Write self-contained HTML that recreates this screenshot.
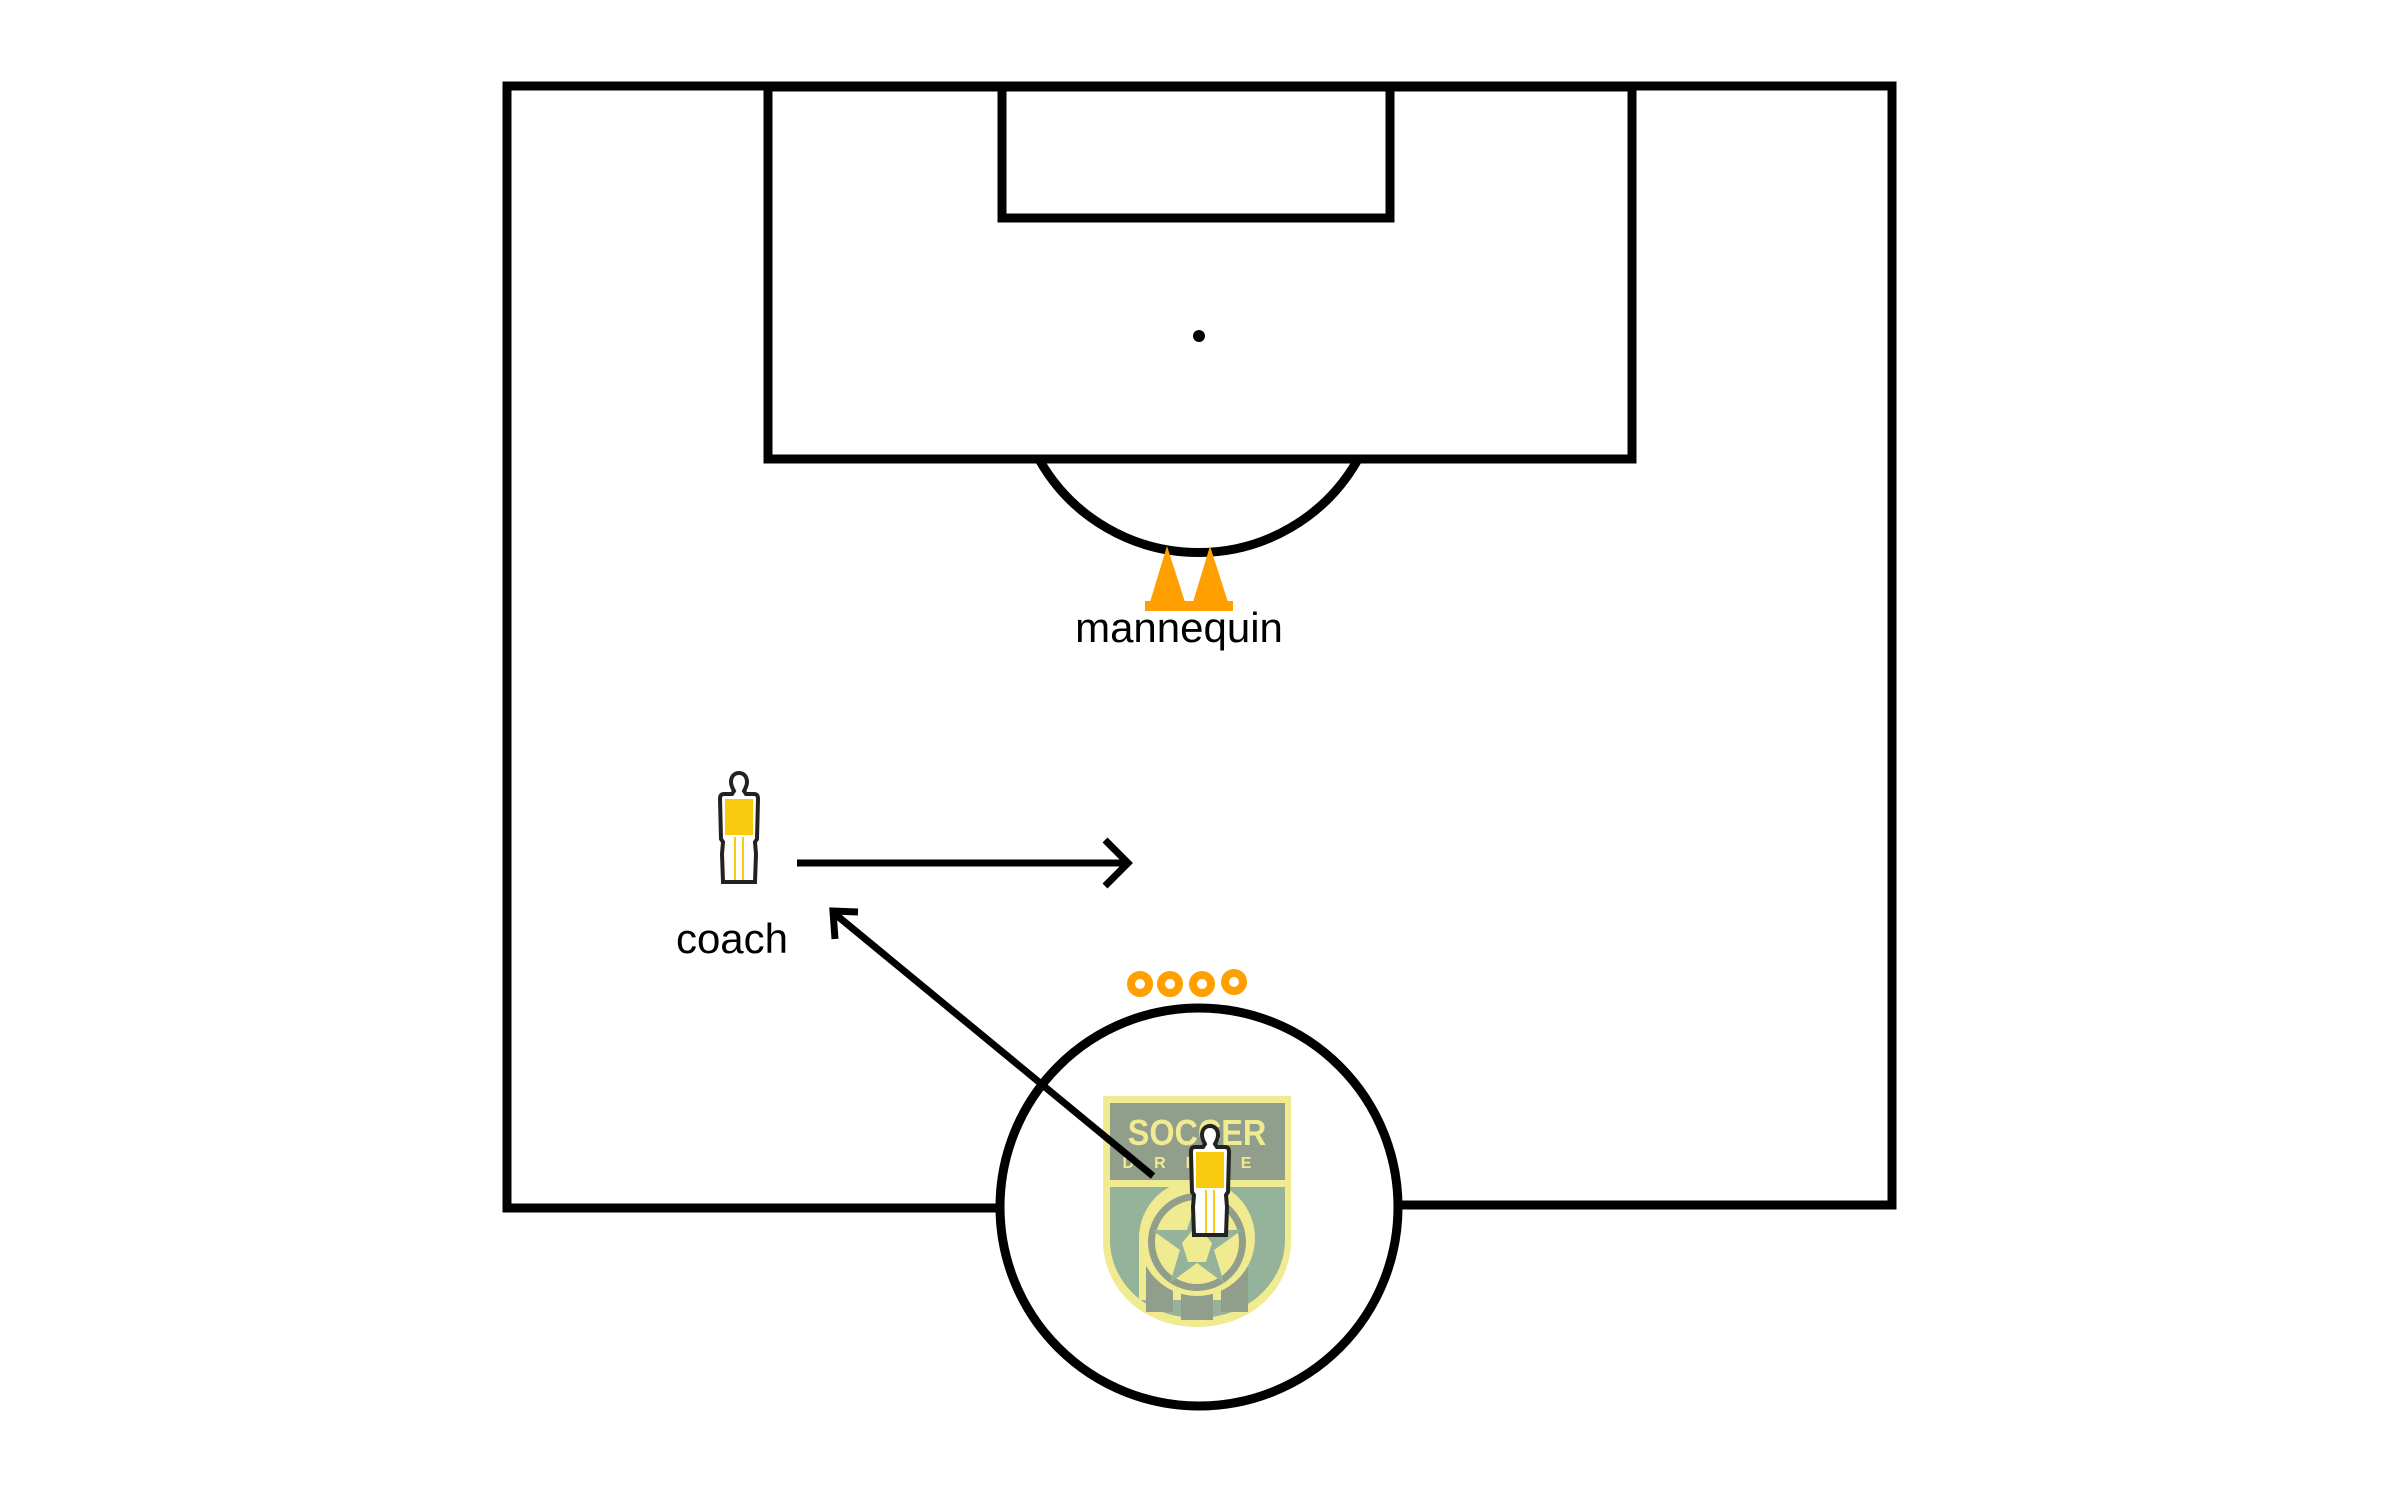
<!DOCTYPE html>
<html><head><meta charset="utf-8"><style>html,body{margin:0;padding:0;background:#fff}svg{display:block}</style></head>
<body>
<svg width="2391" height="1494" viewBox="0 0 2391 1494" xmlns="http://www.w3.org/2000/svg">
<defs>
<g id="man">
 <path d="M0,-52 c-6,0 -8,5 -8,9 c0,4 2,7 3,9 l-2,3 h-8 c-3,0 -4,2 -4,5 l1,40 l2,3 l-1,12 l1,28 h16 h16 l1,-28 l-1,-12 l2,-3 l1,-40 c0,-3 -1,-5 -4,-5 h-8 l-2,-3 c1,-2 3,-5 3,-9 c0,-4 -2,-9 -8,-9 z" fill="#fff" stroke="#222" stroke-width="4"/>
 <path d="M-14,-26 h28 v36 h-28 z" fill="#f9cb10"/>
 <line x1="-4" y1="12" x2="-4" y2="55" stroke="#f9cb10" stroke-width="2"/>
 <line x1="4" y1="12" x2="4" y2="55" stroke="#f9cb10" stroke-width="2"/>
</g>
</defs>
<g fill="none" stroke="#000" stroke-width="9">
 <polyline points="1000,1208 507,1208 507,86 1892,86 1892,1205 1398,1205"/>
 <rect x="768" y="87" width="864" height="372"/>
 <rect x="1002" y="87" width="388" height="131"/>
 <path d="M1040,461 A183,183 0 0 0 1357,461"/>
 <circle cx="1199" cy="1207" r="199"/>
</g>
<circle cx="1199" cy="336" r="6" fill="#000"/>
<g fill="#ff9f00">
 <polygon points="1167,546 1150,602 1185,602"/>
 <polygon points="1210,546 1193,602 1228,602"/>
 <rect x="1145" y="601" width="88" height="10"/>
</g>
<text x="1179" y="642" font-family="Liberation Sans, sans-serif" font-size="42" text-anchor="middle">mannequin</text>
<g fill="none" stroke="#ff9f00" stroke-width="8">
 <circle cx="1140" cy="984" r="9"/><circle cx="1170" cy="984" r="9"/><circle cx="1202" cy="984" r="9"/><circle cx="1234" cy="982" r="9"/>
</g>
<!-- badge -->
<path d="M1103,1096 H1291 V1240 C1291,1290 1250,1327 1197,1327 C1144,1327 1103,1290 1103,1240 Z" fill="#f0ea90"/>
<rect x="1110" y="1103" width="175" height="77" fill="#929e8c"/>
<path d="M1110,1187 H1285 V1240 C1285,1280 1250,1318 1197,1318 C1144,1318 1110,1280 1110,1240 Z" fill="#94b39a"/>
<path d="M1139,1240 V1300 L1247,1300 V1240 Z" fill="#f0ea90"/>
<rect x="1146" y="1260" width="27" height="52" fill="#929e8c"/><rect x="1181" y="1290" width="32" height="30" fill="#929e8c"/><rect x="1221" y="1260" width="27" height="52" fill="#929e8c"/>
<circle cx="1197" cy="1238" r="58" fill="#f0ea90"/>
<circle cx="1197" cy="1242" r="49" fill="#929e8c"/>
<circle cx="1197" cy="1242" r="42" fill="#f0ea90"/>
<polygon points="1197,1198 1207,1230 1242,1230 1214,1250 1224,1283 1197,1263 1170,1283 1180,1250 1152,1230 1187,1230" fill="#94b39a"/>
<polygon points="1197,1225 1212,1243 1206,1262 1188,1262 1182,1243" fill="#f0ea90"/>
<text x="1197" y="1145" font-family="Liberation Sans, sans-serif" font-weight="bold" font-size="36" fill="#f0ea90" text-anchor="middle" transform="translate(1197,0) scale(0.9,1) translate(-1197,0)">SOCCER</text>
<text x="1197" y="1168" font-family="Liberation Sans, sans-serif" font-weight="bold" font-size="16" fill="#f0ea90" text-anchor="middle" letter-spacing="20">DRIVE</text>
<use href="#man" transform="translate(1210,1178)"/>
<!-- coach -->
<use href="#man" transform="translate(739,825)"/>
<text x="732" y="953" font-family="Liberation Sans, sans-serif" font-size="42" text-anchor="middle">coach</text>
<g stroke="#000" stroke-width="7" fill="none">
 <line x1="797" y1="863" x2="1126" y2="863"/>
 <polyline points="1105,840 1128,863 1105,886"/>
 <line x1="1153" y1="1176" x2="835" y2="914"/>
 <polyline points="858,912 833,911 835,939"/>
</g>
</svg>
</body></html>
